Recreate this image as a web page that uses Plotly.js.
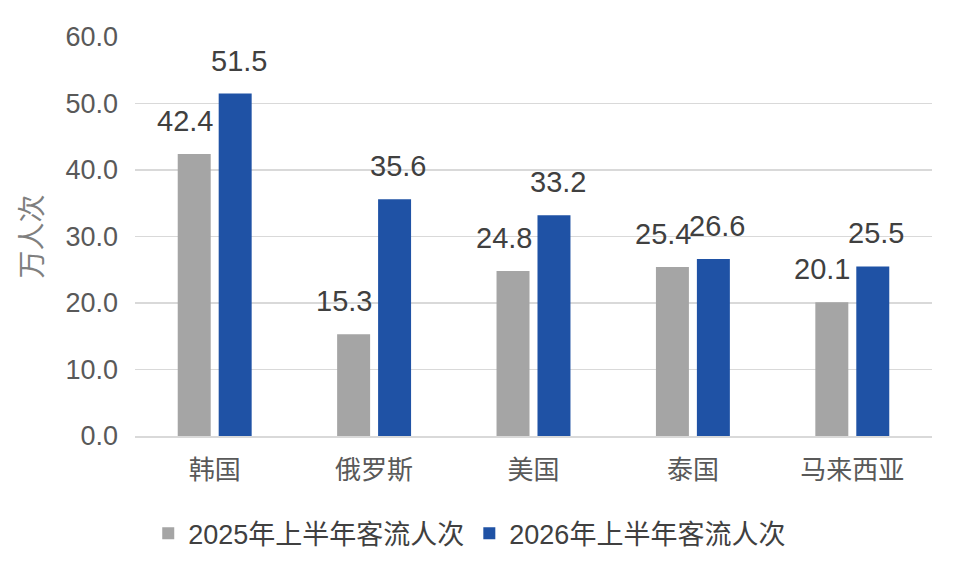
<!DOCTYPE html>
<html>
<head>
<meta charset="utf-8">
<script src="https://cdn.plot.ly/plotly-3.0.1.min.js"></script>
<style>
  html, body { margin: 0; padding: 0; background: #fff; }
  #chart { width: 956px; height: 582px; }
</style>
</head>
<body>
<div id="chart"></div>
<script>
// Categories and series values
var countries = ["韩国", "俄罗斯", "美国", "泰国", "马来西亚"];
var h1_2025 = [42.4, 15.3, 24.8, 25.4, 20.1];
var h1_2026 = [51.5, 35.6, 33.2, 26.6, 25.5];
var seriesNames = ["2025年上半年客流人次", "2026年上半年客流人次"];

var FONT = "'Liberation Sans', Arial, 'Noto Sans CJK SC', sans-serif";

var traces = [
    {
        name: seriesNames[0],
        type: "bar",
        x: countries,
        y: h1_2025,
        marker: { color: "#a5a5a5" },
        hoverinfo: "x+y"
    },
    {
        name: seriesNames[1],
        type: "bar",
        x: countries,
        y: h1_2026,
        marker: { color: "#1f52a5" },
        hoverinfo: "x+y"
    }
];

// Value labels above the bars (grey ones pushed a little to the left)
var annotations = [];
countries.forEach(function (c, i) {
    annotations.push({
        x: c, y: h1_2025[i], xref: "x", yref: "y",
        text: h1_2025[i].toFixed(1),
        showarrow: false, yanchor: "bottom",
        xshift: -30, yshift: 15,
        font: { family: FONT, size: 29, color: "#404040" }
    });
    annotations.push({
        x: c, y: h1_2026[i], xref: "x", yref: "y",
        text: h1_2026[i].toFixed(1),
        showarrow: false, yanchor: "bottom",
        xshift: 24, yshift: 15,
        font: { family: FONT, size: 29, color: "#404040" }
    });
});

var layout = {
    width: 956,
    height: 582,
    margin: { l: 135, r: 24, t: 37, b: 146 },
    paper_bgcolor: "#fff",
    plot_bgcolor: "#fff",
    font: { family: FONT, color: "#595959" },
    barmode: "group",
    bargap: 0.486,
    bargroupgap: 0.195,
    xaxis: {
        showgrid: false,
        showline: true,
        linecolor: "#d9d9d9",
        linewidth: 2,
        ticks: "",
        ticklabelstandoff: 10,
        tickfont: { family: FONT, size: 26, color: "#595959" },
        automargin: false
    },
    yaxis: {
        range: [0, 60],
        dtick: 10,
        tickformat: ".1f",
        showgrid: true,
        gridcolor: "#d9d9d9",
        gridwidth: 1.5,
        zeroline: false,
        ticks: "",
        ticklabelstandoff: 16,
        tickfont: { family: FONT, size: 27, color: "#595959" },
        title: { text: "万人次", font: { family: FONT, size: 28, color: "#7f7f7f" }, standoff: 14 },
        automargin: false
    },
    showlegend: true,
    legend: {
        orientation: "h",
        x: 0.42, xanchor: "center",
        y: -0.245, yanchor: "middle",
        font: { family: FONT, size: 27, color: "#404040" },
        itemwidth: 30,
        traceorder: "normal"
    },
    annotations: annotations
};

Plotly.newPlot("chart", traces, layout, { displayModeBar: false, staticPlot: true });
</script>
</body>
</html>
